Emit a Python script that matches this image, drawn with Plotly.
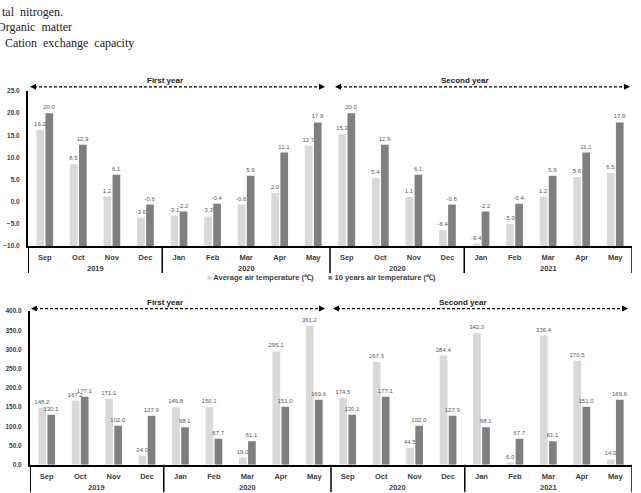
import plotly.graph_objects as go

# ---------------- data ----------------
months = ["Sep", "Oct", "Nov", "Dec", "Jan", "Feb", "Mar", "Apr", "May",
          "Sep", "Oct", "Nov", "Dec", "Jan", "Feb", "Mar", "Apr", "May"]
year_labels = ["2019", "2020", "2020", "2021"]
year_sizes = [4, 5, 4, 5]
period_labels = ["First year", "Second year"]
period_sizes = [9, 9]

temp_avg = [16.2, 8.5, 1.2, -3.6, -3.1, -3.3, -0.6, 2.0, 12.7,
            15.3, 5.4, 1.1, -6.4, -9.4, -5.0, 1.2, 5.6, 6.5]
temp_10y = [20.0, 12.9, 6.1, -0.6, -2.2, -0.4, 5.9, 11.1, 17.9,
            20.0, 12.9, 6.1, -0.6, -2.2, -0.4, 5.9, 11.1, 17.9]
rain_avg = [148.2, 167.2, 171.1, 24.0, 149.8, 150.1, 19.0, 295.1, 361.2,
            174.5, 267.3, 44.5, 284.4, 342.3, 6.0, 336.4, 270.5, 14.0]
rain_10y = [130.1, 177.1, 102.0, 127.9, 98.1, 67.7, 61.1, 151.0, 169.6,
            130.1, 177.1, 102.0, 127.9, 98.1, 67.7, 61.1, 151.0, 169.6]
TEMP_MIN, TEMP_MAX = -10, 25
RAIN_MIN, RAIN_MAX = 0, 400
series_names = ["Average air temperature (℃)", "10 years air temperature (℃)"]

# ---------------- layout helpers ----------------
W, H = 641, 493
def fx(px):
    return px / W
def fy(py):
    return 1 - py / H

LIGHT = "#d9d9d9"
DARK = "#7f7f7f"
LABEL = "#595959"
AXTXT = "#404040"
FONT = "Liberation Sans"

x_idx = list(range(len(months)))

fig = go.Figure()

def add_bars(avg, ten, base, xa, ya):
    for vals, col, name in ((avg, LIGHT, series_names[0]), (ten, DARK, series_names[1])):
        fig.add_trace(go.Bar(
            x=x_idx, y=[v - base for v in vals], base=base,
            marker=dict(color=col, line=dict(width=0)),
            text=[f"{v:.1f}" for v in vals], textposition="outside",
            constraintext="none", cliponaxis=False,
            textfont=dict(family=FONT, size=6, color=LABEL),
            name=name, showlegend=False, xaxis=xa, yaxis=ya))

add_bars(temp_avg, temp_10y, TEMP_MIN, "x", "y")
add_bars(rain_avg, rain_10y, RAIN_MIN, "x2", "y2")

# pixel geometry of the two panels
panels = [
    dict(xa="x", ya="y", left=28, right=632, top=88.2, bottom=245.7,
         box_bottom=273, year_y=268, arrow_y=84, title_y=78,
         title_px=[165, 465], arrow_px=[(30, 325), (335, 630)]),
    dict(xa="x2", ya="y2", left=30, right=632, top=311.5, bottom=467.5,
         box_bottom=495, year_y=490, arrow_y=309, title_y=303,
         title_px=[165, 463], arrow_px=[(31, 325), (333, 628)]),
]

xcommon = dict(range=[-0.5, len(months) - 0.5], tickmode="array",
               tickvals=x_idx, ticktext=months, showgrid=False, zeroline=False,
               showline=True, linecolor="black", linewidth=1.5, ticks="",
               ticklabelstandoff=3,
               tickfont=dict(family=FONT, size=7.5, color=AXTXT, weight="bold"))
ycommon = dict(showgrid=False, zeroline=False, showline=True, linecolor="black",
               linewidth=2, ticks="", tickformat=".1f", ticklabelstandoff=5,
               tickfont=dict(family=FONT, size=6.5, color=AXTXT, weight="bold"))

p0, p1 = panels
fig.update_layout(
    xaxis=dict(domain=[fx(p0["left"]), fx(p0["right"])], anchor="y", **xcommon),
    yaxis=dict(domain=[fy(p0["bottom"]), fy(p0["top"])], anchor="x",
               range=[TEMP_MIN, TEMP_MAX], dtick=5, **ycommon),
    xaxis2=dict(domain=[fx(p1["left"]), fx(p1["right"])], anchor="y2", **xcommon),
    yaxis2=dict(domain=[fy(p1["bottom"]), fy(p1["top"])], anchor="x2",
                range=[RAIN_MIN, RAIN_MAX], dtick=50, **ycommon),
)

shapes = []
annotations = []

# group boundaries from year group sizes
bounds = [-0.5]
for s in year_sizes:
    bounds.append(bounds[-1] + s)
centers = [(bounds[i] + bounds[i + 1]) / 2 for i in range(len(year_sizes))]

for p in panels:
    for b in bounds:
        shapes.append(dict(type="line", xref=p["xa"], yref="paper",
                           x0=b, x1=b, y0=fy(p["bottom"]), y1=fy(p["box_bottom"]),
                           line=dict(color="black", width=2 if b == bounds[0] else 1.5)))
    for c, lab in zip(centers, year_labels):
        annotations.append(dict(xref=p["xa"], yref="paper", x=c, y=fy(p["year_y"]),
                                text=lab, showarrow=False, xanchor="center", yanchor="middle",
                                font=dict(family=FONT, size=7.5, color=AXTXT, weight="bold")))
    # period arrows
    for (a0, a1), tx, lab in zip(p["arrow_px"], p["title_px"], period_labels):
        shapes.append(dict(type="line", xref="paper", yref="paper",
                           x0=fx(a0 + 4), x1=fx(a1 - 4), y0=fy(p["arrow_y"]), y1=fy(p["arrow_y"]),
                           line=dict(color="black", width=1.3, dash="3px,2px")))
        for end, off in ((a0, 7), (a1, -7)):
            annotations.append(dict(xref="paper", yref="paper", x=fx(end), y=fy(p["arrow_y"]),
                                    ax=off, ay=0, text="", showarrow=True, arrowhead=2,
                                    arrowsize=1, arrowwidth=1.2, arrowcolor="black", standoff=0))
        annotations.append(dict(xref="paper", yref="paper", x=fx(tx), y=fy(p["title_y"]),
                                text=lab, showarrow=False, xanchor="center", yanchor="middle",
                                font=dict(family=FONT, size=8, color="#1a1a1a", weight="bold")))

# legend for the top chart
annotations.append(dict(xref="paper", yref="paper", x=fx(316), y=fy(277),
                        text=f"<span style='color:{LIGHT}'>■</span> {series_names[0]}",
                        showarrow=False, xanchor="right", yanchor="middle",
                        font=dict(family=FONT, size=7.5, color=AXTXT, weight="bold")))
annotations.append(dict(xref="paper", yref="paper", x=fx(326), y=fy(277),
                        text=f"<span style='color:{DARK}'>■</span> {series_names[1]}",
                        showarrow=False, xanchor="left", yanchor="middle",
                        font=dict(family=FONT, size=7.5, color=AXTXT, weight="bold")))

# header text (caption lines from the page, partly cut at the left edge)
for txt, px, py in (("tal  nitrogen.", 0, 8), ("Organic  matter", -5, 23), ("Cation  exchange  capacity", 3, 40)):
    annotations.append(dict(xref="paper", yref="paper", x=fx(px), y=fy(py), text=txt,
                            showarrow=False, xanchor="left", yanchor="middle",
                            font=dict(family="Liberation Serif", size=12, color="#222222")))

fig.update_layout(
    width=W, height=H, margin=dict(l=0, r=0, t=0, b=0),
    paper_bgcolor="white", plot_bgcolor="white",
    barmode="group", bargap=0.46, bargroupgap=0.15,
    showlegend=False, shapes=shapes, annotations=annotations,
)

fig.write_html("out.html")
